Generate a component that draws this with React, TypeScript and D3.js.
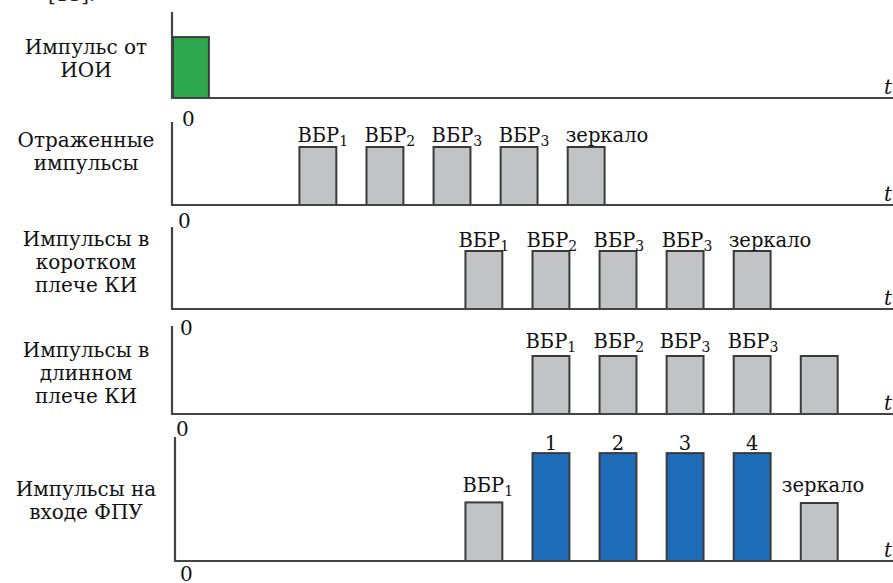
import React from "react";
import * as d3 from "d3";

// ---------- DATA ----------
const panelLabels: string[][] = [
  ["Импульс от", "ИОИ"],
  ["Отраженные", "импульсы"],
  ["Импульсы в", "коротком", "плече КИ"],
  ["Импульсы в", "длинном", "плече КИ"],
  ["Импульсы на", "входе ФПУ"],
];

// pulse start times (arbitrary time units), amplitudes and kinds per panel
const pulseStarts: number[][] = [
  [0],
  [3.8, 5.8, 7.8, 9.8, 11.8],
  [8.75, 10.75, 12.75, 14.75, 16.75],
  [10.75, 12.75, 14.75, 16.75, 18.75],
  [8.75, 10.75, 12.75, 14.75, 16.75, 18.75],
];
const pulseAmps: number[][] = [
  [1.05],
  [1, 1, 1, 1, 1],
  [1, 1, 1, 1, 1],
  [1, 1, 1, 1, 1],
  [1.01, 1.86, 1.86, 1.86, 1.86, 1.0],
];
const pulseKinds: string[][] = [
  ["source"],
  ["refl", "refl", "refl", "refl", "refl"],
  ["refl", "refl", "refl", "refl", "refl"],
  ["refl", "refl", "refl", "refl", "refl"],
  ["refl", "sum", "sum", "sum", "sum", "refl"],
];
const pulseWidths: number[] = [1.07, 1.1, 1.1, 1.1, 1.1];

// labels above pulses: [main text, subscript]
const pulseTexts: [string, string][][] = [
  [],
  [["ВБР", "1"], ["ВБР", "2"], ["ВБР", "3"], ["ВБР", "3"], ["зеркало", ""]],
  [["ВБР", "1"], ["ВБР", "2"], ["ВБР", "3"], ["ВБР", "3"], ["зеркало", ""]],
  [["ВБР", "1"], ["ВБР", "2"], ["ВБР", "3"], ["ВБР", "3"]],
  [["ВБР", "1"], ["1", ""], ["2", ""], ["3", ""], ["4", ""], ["зеркало", ""]],
];
const zeroLabel = "0";
const axisLabel = "t";
const timeDomain: [number, number] = [0, 21.5];
const ampDomain: [number, number] = [0, 1];

// ---------- LAYOUT ----------
const W = 893;
const H = 583;
const layout = [
  { axisX: 172, top: 12, base: 98, zeroX: 182, zeroY: 126, labelY: [54, 77], textY: 0, textDx: [] as number[], anchor: [] as string[] },
  { axisX: 172, top: 122, base: 205, zeroX: 178, zeroY: 228, labelY: [147, 170], textY: 142, textDx: [-2, -2, -2, -2, -2], anchor: ["start", "start", "start", "start", "start"] },
  { axisX: 172, top: 227, base: 309, zeroX: 180, zeroY: 335, labelY: [246, 269, 292], textY: 247, textDx: [-7, -6, -6, -5, -5], anchor: ["start", "start", "start", "start", "start"] },
  { axisX: 172, top: 326, base: 414, zeroX: 176, zeroY: 436, labelY: [357, 380, 403], textY: 348, textDx: [-7, -6, -7, -6], anchor: ["start", "start", "start", "start"] },
  { axisX: 175, top: 437, base: 561, zeroX: 180, zeroY: 581, labelY: [496, 519], textY: 450, textDx: [-3, 0, 0, 0, 0, -19], anchor: ["start", "middle", "middle", "middle", "middle", "start"], textYs: [492, 450, 450, 450, 450, 492] },
];
const colors: Record<string, string> = {
  source: "#2ea84f",
  refl: "#c2c3c5",
  sum: "#1f6cb9",
};
const stroke = "#3a3a3a";
const font = "'DejaVu Serif', serif";
const fs = 20;
const fsPulse = 19.5;

export default function App() {
  const x = d3.scaleLinear().domain(timeDomain).range([172, W]);
  const ampPx = 58;

  return (
    <div style={{ position: "absolute", left: 0, top: 0 }}>
      <svg width={W} height={H} style={{ display: "block", background: "#fff", fontFamily: font }}>
        <text x={48} y={1} fontSize={fs} fill="#222">[13].</text>
        {layout.map((L, p) => {
          const y = d3.scaleLinear().domain(ampDomain).range([L.base, L.base - ampPx]);
          const w = x(pulseWidths[p]) - x(0);
          return (
            <g key={p}>
              {/* left caption */}
              {panelLabels[p].map((s, i) => (
                <text key={i} x={86} y={L.labelY[i]} fontSize={fs} textAnchor="middle" fill="#111">
                  {s}
                </text>
              ))}
              {/* pulses */}
              {pulseStarts[p].map((t, i) => (
                <rect
                  key={i}
                  x={x(t) + (p === 0 ? 1 : 0)}
                  y={y(pulseAmps[p][i])}
                  width={w}
                  height={L.base - y(pulseAmps[p][i])}
                  fill={colors[pulseKinds[p][i]]}
                  stroke={stroke}
                  strokeWidth={2}
                />
              ))}
              {/* pulse labels */}
              {pulseTexts[p].map(([main, sub], i) => {
                const anchor = L.anchor[i];
                const bx = anchor === "middle" ? x(pulseStarts[p][i]) + w / 2 : x(pulseStarts[p][i]);
                const ty = (L as any).textYs ? (L as any).textYs[i] : L.textY;
                return (
                  <text key={i} x={bx + L.textDx[i]} y={ty} fontSize={fsPulse} textAnchor={anchor} fill="#111">
                    {main}
                    {sub && (
                      <tspan fontSize={14} dy={4}>
                        {sub}
                      </tspan>
                    )}
                  </text>
                );
              })}
              {/* axes */}
              <line x1={L.axisX} y1={L.top} x2={L.axisX} y2={L.base} stroke="#444" strokeWidth={2.2} />
              <line x1={L.axisX - 1} y1={L.base} x2={W} y2={L.base} stroke="#444" strokeWidth={2.2} />
              <text x={L.zeroX} y={L.zeroY} fontSize={fs} fill="#111">{zeroLabel}</text>
              <text x={884} y={L.base - 4} fontSize={fs} fontStyle="italic" fill="#111">{axisLabel}</text>
            </g>
          );
        })}
      </svg>
    </div>
  );
}
